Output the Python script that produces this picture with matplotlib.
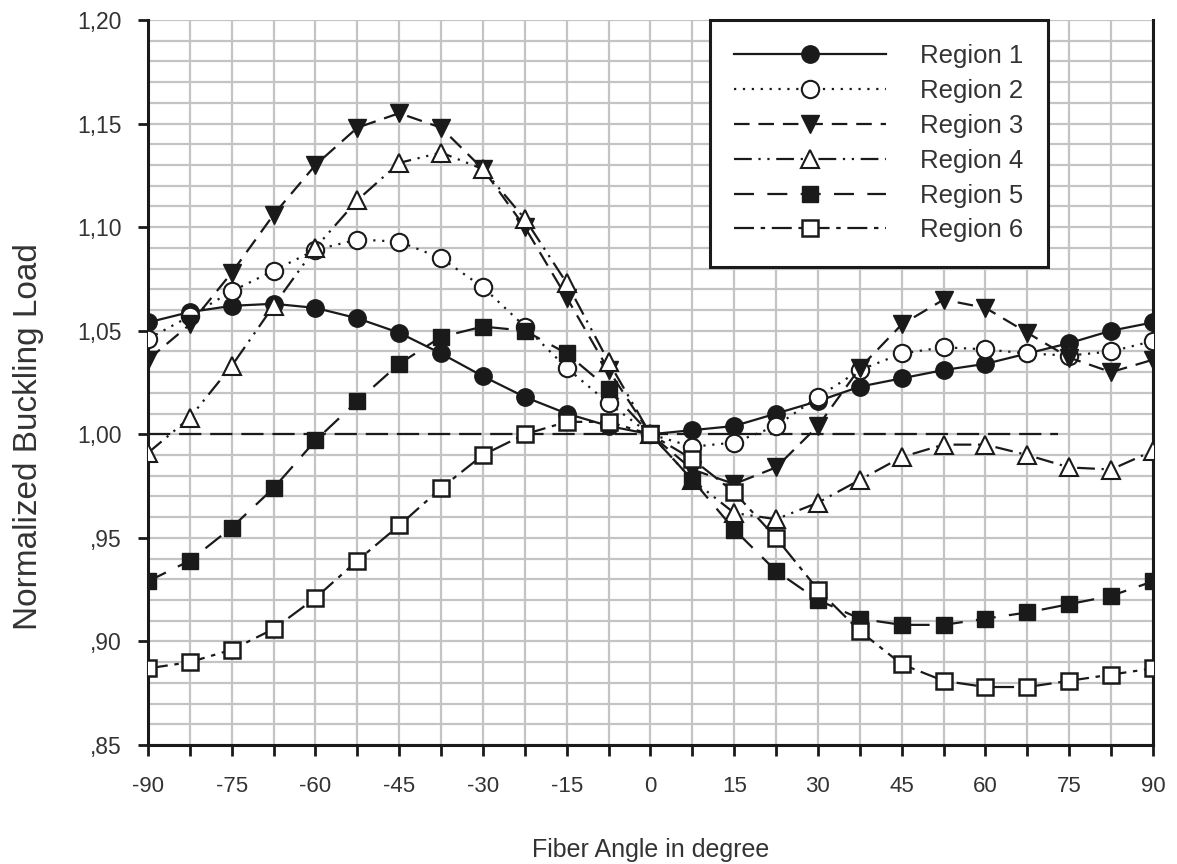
import matplotlib
matplotlib.use("Agg")
import matplotlib.pyplot as plt
import numpy as np
from matplotlib.ticker import MultipleLocator, FuncFormatter

plt.rcParams['font.family'] = ['Liberation Sans', 'DejaVu Sans']
plt.rcParams['axes.unicode_minus'] = False

# fiber angle in degree
angles = [-90, -82.5, -75, -67.5, -60, -52.5, -45, -37.5, -30, -22.5, -15, -7.5,
          0, 7.5, 15, 22.5, 30, 37.5, 45, 52.5, 60, 67.5, 75, 82.5, 90]

region1 = [1.054, 1.059, 1.062, 1.063, 1.061, 1.056, 1.049, 1.039, 1.028, 1.018, 1.010, 1.004,
           1.000, 1.002, 1.004, 1.010, 1.016, 1.023, 1.027, 1.031, 1.034, 1.039, 1.044, 1.050, 1.054]
region2 = [1.046, 1.057, 1.069, 1.079, 1.089, 1.094, 1.093, 1.085, 1.071, 1.052, 1.032, 1.015,
           1.000, 0.994, 0.996, 1.004, 1.018, 1.031, 1.039, 1.042, 1.041, 1.039, 1.038, 1.040, 1.045]
region3 = [1.036, 1.053, 1.078, 1.106, 1.130, 1.148, 1.155, 1.148, 1.128, 1.100, 1.066, 1.031,
           1.000, 0.983, 0.976, 0.984, 1.004, 1.032, 1.053, 1.065, 1.061, 1.049, 1.037, 1.030, 1.036]
region4 = [0.991, 1.008, 1.033, 1.062, 1.090, 1.113, 1.131, 1.136, 1.128, 1.104, 1.073, 1.035,
           1.000, 0.978, 0.962, 0.959, 0.967, 0.978, 0.989, 0.995, 0.995, 0.990, 0.984, 0.983, 0.992]
region5 = [0.929, 0.939, 0.955, 0.974, 0.997, 1.016, 1.034, 1.047, 1.052, 1.050, 1.039, 1.022,
           1.000, 0.978, 0.954, 0.934, 0.920, 0.911, 0.908, 0.908, 0.911, 0.914, 0.918, 0.922, 0.929]
region6 = [0.887, 0.890, 0.896, 0.906, 0.921, 0.939, 0.956, 0.974, 0.990, 1.000, 1.006, 1.006,
           1.000, 0.988, 0.972, 0.950, 0.925, 0.905, 0.889, 0.881, 0.878, 0.878, 0.881, 0.884, 0.887]

labels = ["Region 1", "Region 2", "Region 3", "Region 4", "Region 5", "Region 6"]

ink = "#1a1a1a"
txt = "#333333"

fig = plt.figure(figsize=(11.77, 8.64), dpi=100)
ax = fig.add_axes([0.1257, 0.1377, 0.8539, 0.8392])

ax.set_xlim(-90, 90)
ax.set_ylim(0.85, 1.20)

# grid
ax.xaxis.set_major_locator(MultipleLocator(15))
ax.xaxis.set_minor_locator(MultipleLocator(7.5))
ax.yaxis.set_major_locator(MultipleLocator(0.05))
ax.yaxis.set_minor_locator(MultipleLocator(0.01))
ax.grid(which="both", color="#c4c4c4", linewidth=1.6, zorder=0)
ax.set_axisbelow(True)

# reference line at 1.00
ax.hlines(1.0, -90, 73, colors=ink, linestyles=(0, (10, 4)), linewidth=1.6, zorder=2)

ax.plot(angles, region1, color=ink, lw=1.6, ls="-", marker="o", ms=12.5,
        mfc=ink, mec=ink, label=labels[0], zorder=3)
ax.plot(angles, region2, color=ink, lw=1.6, ls=(0, (1, 3)), marker="o", ms=12.5,
        mfc="white", mec=ink, mew=1.5, label=labels[1], zorder=3)
ax.plot(angles, region3, color=ink, lw=1.6, ls=(0, (7, 4)), marker="v", ms=12.5,
        mfc=ink, mec=ink, label=labels[2], zorder=3)
ax.plot(angles, region4, color=ink, lw=1.6, ls=(0, (8, 3, 1, 3, 1, 3)), marker="^", ms=12.5,
        mfc="white", mec=ink, mew=1.5, label=labels[3], zorder=3)
ax.plot(angles, region5, color=ink, lw=1.6, ls=(0, (9, 6)), marker="s", ms=12,
        mfc=ink, mec=ink, label=labels[4], zorder=3)
ax.plot(angles, region6, color=ink, lw=1.6, ls=(0, (9, 3, 2, 3)), marker="s", ms=11.5,
        mfc="white", mec=ink, mew=1.8, label=labels[5], zorder=3)

# axes look
for s in ["left", "bottom", "right"]:
    ax.spines[s].set_color(ink)
    ax.spines[s].set_linewidth(2.2)
ax.spines["top"].set_visible(False)

def comma_fmt(v, pos):
    s = "%.2f" % v
    if s.startswith("0"):
        s = s[1:]
    return s.replace(".", ",")

ax.yaxis.set_major_formatter(FuncFormatter(comma_fmt))
ax.tick_params(axis="y", which="major", direction="out", length=7, width=2,
               labelsize=16.5, labelcolor=txt, color=ink, pad=12)
ax.tick_params(axis="y", which="minor", length=0)
ax.tick_params(axis="x", which="both", direction="out", length=8, width=2,
               labelsize=16, labelcolor=txt, color=ink, pad=14)

ax.set_xlabel("Fiber Angle in degree", fontsize=18, color=txt, labelpad=30)
ax.set_ylabel("Normalized Buckling Load", fontsize=24, color=txt)
ax.yaxis.set_label_coords(-0.103, 0.426)

leg = ax.legend(loc="upper left", bbox_to_anchor=(0.559, 1.0), fontsize=18.5,
                handlelength=5.9, handletextpad=1.35, labelspacing=0.42,
                borderpad=0.95, borderaxespad=0, fancybox=False, framealpha=1,
                edgecolor=ink, labelcolor=txt)
leg.get_frame().set_linewidth(2.2)

fig.savefig("out.png", dpi=100)
